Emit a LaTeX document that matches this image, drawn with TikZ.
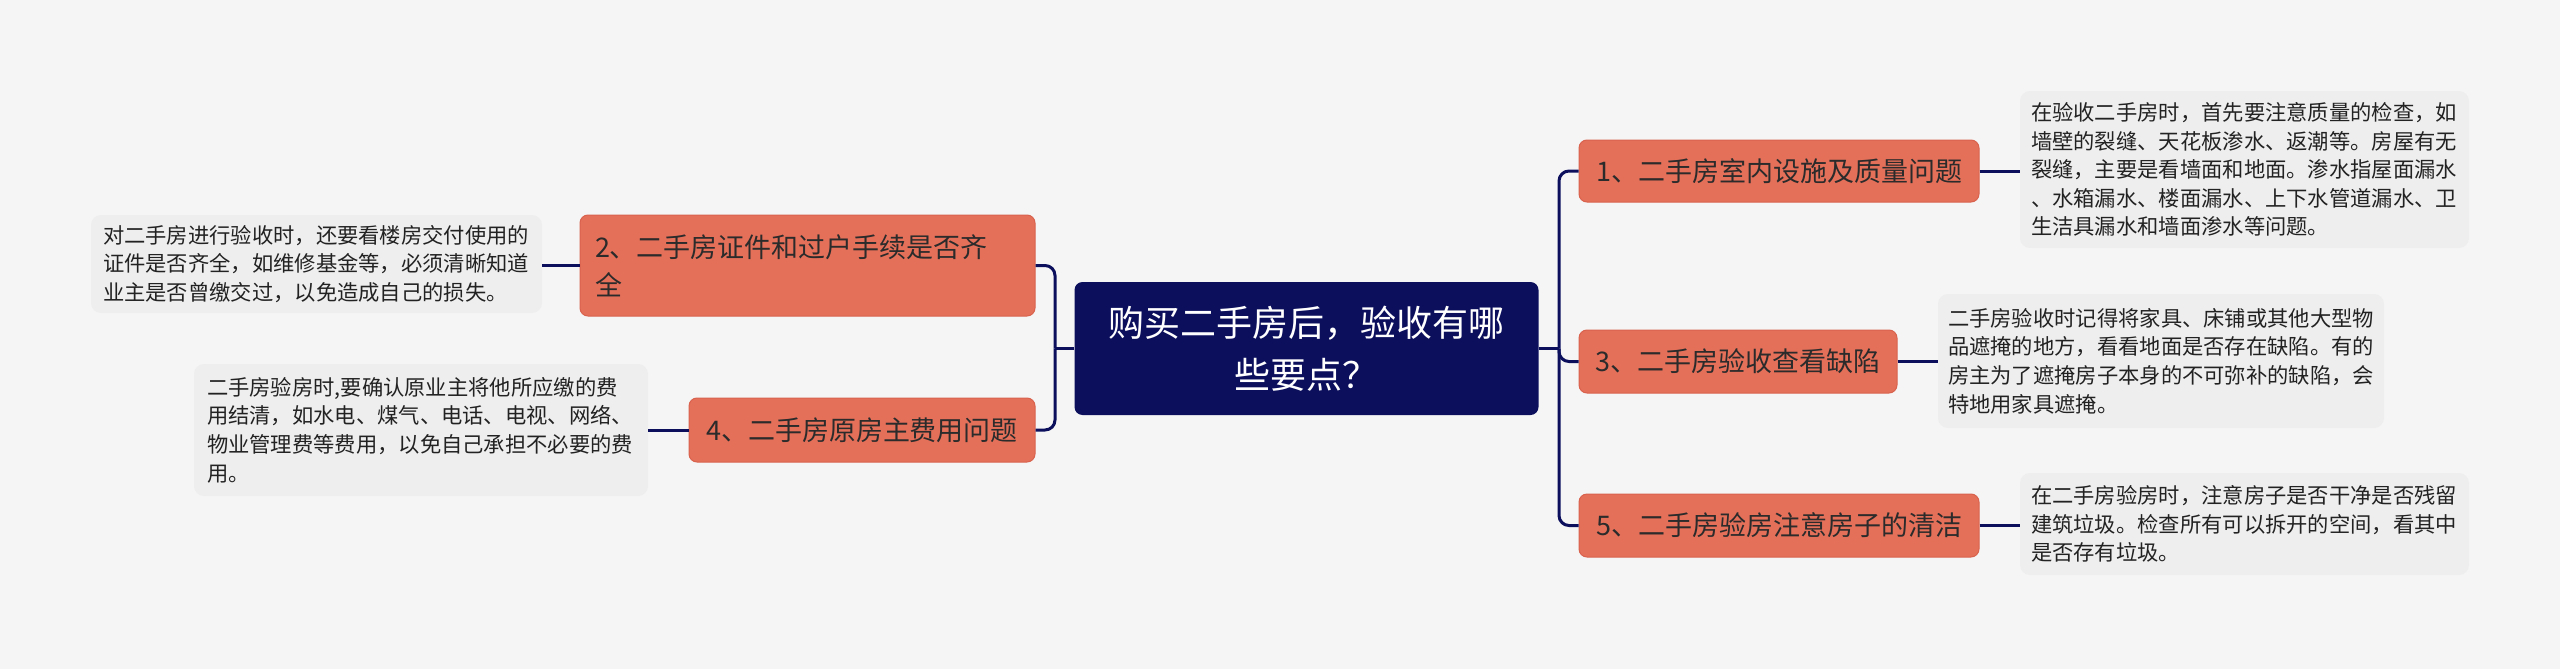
\documentclass[tikz,border=0pt]{standalone}
\usepackage{fontspec}
\setmainfont{Noto Sans CJK SC}
\definecolor{bg}{HTML}{F5F5F5}
\definecolor{navy}{HTML}{0B0F5C}
\definecolor{salmon}{HTML}{E5705A}
\definecolor{salmonedge}{HTML}{D8624D}
\definecolor{leafbg}{HTML}{EEEEEE}
\definecolor{btxt}{HTML}{2B2B2B}
\definecolor{ltxt}{HTML}{222222}
\begin{document}
\begin{tikzpicture}[x=1pt,y=-1pt,
  centerbox/.style={fill=navy, rounded corners=8pt, text=white,
    font=\fontsize{36}{52}\selectfont, align=center, inner sep=0pt},
  branchbox/.style={fill=salmon, draw=salmonedge, line width=1pt, rounded corners=8pt,
    text=btxt, font=\fontsize{27}{38}\selectfont, align=center, inner sep=0pt},
  leafbox/.style={fill=leafbg, rounded corners=10pt, text=ltxt,
    font=\fontsize{21.3}{28.6}\selectfont, align=left, inner ysep=0pt},
  link/.style={draw=navy, line width=3pt, rounded corners=10pt}]
\fill[bg] (0,0) rectangle (2560,669);
\useasboundingbox (0,0) rectangle (2560,669);

% center
\node[centerbox, minimum width=464pt, minimum height=133pt] (c) at (1306.5,348.5)
  {购买二手房后，验收有哪\\些要点？};

% branches
\node[branchbox, minimum width=400pt, minimum height=62pt] (n1) at (1779,171)
  {1、二手房室内设施及质量问题};
\node[branchbox, minimum width=318pt, minimum height=63pt] (n3) at (1738,361.5)
  {3、二手房验收查看缺陷};
\node[branchbox, minimum width=400pt, minimum height=63pt] (n5) at (1779,525.5)
  {5、二手房验房注意房子的清洁};
\node[branchbox, align=left, text width=425pt, inner xsep=15pt, minimum height=101pt] (n2) at (807.5,265.5)
  {2、二手房证件和过户手续是否齐\\全};
\node[branchbox, minimum width=346pt, minimum height=64pt] (n4) at (862,430)
  {4、二手房原房主费用问题};

% leaves
\node[leafbox, text width=427pt, inner xsep=11pt, minimum height=157pt] (l1) at (2244.5,169.5)
  {在验收二手房时，首先要注意质量的检查，如\\墙壁的裂缝、天花板渗水、返潮等。房屋有无\\裂缝，主要是看墙面和地面。渗水指屋面漏水\\、水箱漏水、楼面漏水、上下水管道漏水、卫\\生洁具漏水和墙面渗水等问题。};
\node[leafbox, text width=426pt, inner xsep=10pt, minimum height=134pt] (l3) at (2161,361)
  {二手房验收时记得将家具、床铺或其他大型物\\品遮掩的地方，看看地面是否存在缺陷。有的\\房主为了遮掩房子本身的不可弥补的缺陷，会\\特地用家具遮掩。};
\node[leafbox, text width=427pt, inner xsep=11pt, minimum height=102pt] (l5) at (2244.5,524)
  {在二手房验房时，注意房子是否干净是否残留\\建筑垃圾。检查所有可以拆开的空间，看其中\\是否存有垃圾。};
\node[leafbox, text width=427pt, inner xsep=12pt, minimum height=98pt] (l2) at (316.5,264)
  {对二手房进行验收时，还要看楼房交付使用的\\证件是否齐全，如维修基金等，必须清晰知道\\业主是否曾缴交过，以免造成自己的损失。};
\node[leafbox, text width=428pt, inner xsep=13pt, minimum height=132pt] (l4) at (421,430)
  {二手房验房时,要确认原业主将他所应缴的费\\用结清，如水电、煤气、电话、电视、网络、\\物业管理费等费用，以免自己承担不必要的费\\用。};

% connectors
\coordinate (rj) at (1559,348.5);
\coordinate (lj) at (1055,348.5);
\draw[link] (c.east) -- (rj);
\draw[link] (rj) |- (n1.west);
\draw[link] (rj) |- (n3.west);
\draw[link] (rj) |- (n5.west);
\draw[link] (c.west) -- (lj);
\draw[link] (lj) |- (n2.east);
\draw[link] (lj) |- (n4.east);
\draw[link] (n1.east) -- (n1.east -| l1.west);
\draw[link] (n3.east) -- (n3.east -| l3.west);
\draw[link] (n5.east) -- (n5.east -| l5.west);
\draw[link] (n2.west -| l2.east) -- (n2.west);
\draw[link] (n4.west -| l4.east) -- (n4.west);
\end{tikzpicture}
\end{document}
